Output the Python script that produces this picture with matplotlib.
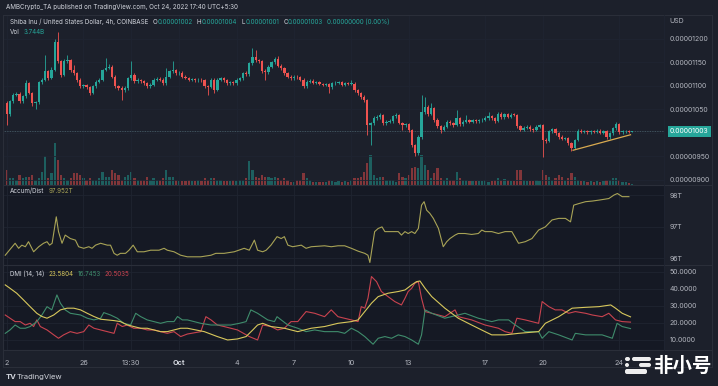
import matplotlib
matplotlib.use("Agg")
import matplotlib.pyplot as plt
from matplotlib.patches import FancyBboxPatch
import numpy as np

# SHIB/USD, 4h candles from Sep 22 2022, prices in units of 1e-8 USD
first_open = 1063
close = [
    1040, 1067, 1081, 1083, 1067, 1078, 1106, 1085, 1063, 1065,
    1108, 1113, 1131, 1117, 1134, 1194, 1152, 1124, 1152, 1155,
    1134, 1127, 1113, 1099, 1101, 1097, 1085, 1099, 1109, 1113,
    1134, 1138, 1141, 1120, 1099, 1096, 1092, 1095, 1116, 1124,
    1110, 1112, 1110, 1106, 1099, 1102, 1113, 1115, 1113, 1106,
    1120, 1131, 1133, 1127, 1128, 1120, 1117, 1113, 1114, 1112,
    1113, 1112, 1099, 1098, 1113, 1092, 1113, 1116, 1112, 1106,
    1108, 1106, 1113, 1116, 1127, 1125, 1148, 1162, 1155, 1153,
    1131, 1129, 1141, 1150, 1158, 1143, 1138, 1127, 1120, 1116,
    1120, 1118, 1113, 1099, 1109, 1111, 1107, 1108, 1104, 1103,
    1104, 1097, 1106, 1107, 1108, 1103, 1106, 1104, 1105, 1091,
    1084, 1077, 1070, 1017, 1020, 1031, 1033, 1038, 1020, 1024,
    1025, 1035, 1038, 1021, 1017, 1018, 1006, 974, 957, 992,
    1045, 1056, 1040, 1052, 1028, 1014, 1006, 1013, 1024, 1021,
    1017, 1031, 1018, 1024, 1027, 1024, 1027, 1025, 1027, 1028,
    1031, 1035, 1031, 1026, 1041, 1033, 1040, 1034, 1039, 1038,
    1014, 1007, 1011, 1013, 1008, 1006, 1013, 1016, 985, 983,
    1003, 1008, 999, 992, 988, 989, 978, 968, 985, 1005,
    1002, 1004, 1001, 1004, 1002, 1005, 1000, 1003, 991, 999,
    1010, 1019, 1001, 1003, 1004, 1002, 1003,
]
high = [
    1067, 1070, 1085, 1088, 1086, 1081, 1112, 1109, 1088, 1068,
    1111, 1117, 1166, 1134, 1140, 1199, 1215, 1156, 1158, 1166,
    1158, 1145, 1130, 1116, 1105, 1104, 1100, 1102, 1112, 1117,
    1137, 1159, 1146, 1145, 1123, 1102, 1099, 1099, 1119, 1152,
    1127, 1116, 1115, 1113, 1109, 1106, 1116, 1119, 1118, 1116,
    1138, 1134, 1152, 1136, 1131, 1131, 1123, 1120, 1117, 1117,
    1116, 1116, 1115, 1102, 1116, 1116, 1117, 1120, 1119, 1115,
    1111, 1111, 1116, 1120, 1130, 1131, 1151, 1180, 1177, 1158,
    1156, 1135, 1144, 1153, 1162, 1163, 1146, 1141, 1130, 1123,
    1123, 1123, 1121, 1116, 1112, 1114, 1114, 1111, 1111, 1107,
    1107, 1107, 1109, 1111, 1111, 1111, 1109, 1109, 1113, 1108,
    1094, 1087, 1080, 1073, 1024, 1035, 1037, 1042, 1041, 1028,
    1029, 1038, 1042, 1041, 1024, 1022, 1021, 1009, 977, 995,
    1081, 1077, 1059, 1064, 1055, 1031, 1017, 1016, 1027, 1028,
    1024, 1048, 1034, 1027, 1037, 1030, 1030, 1030, 1030, 1032,
    1035, 1045, 1038, 1034, 1044, 1044, 1043, 1043, 1042, 1042,
    1041, 1017, 1014, 1016, 1016, 1011, 1016, 1019, 1019, 989,
    1006, 1011, 1011, 1002, 995, 992, 992, 981, 988, 1008,
    1008, 1007, 1007, 1007, 1007, 1008, 1008, 1006, 1006, 1002,
    1013, 1023, 1022, 1006, 1006, 1006, 1004,
]
low = [
    1017, 1036, 1064, 1078, 1063, 1064, 1075, 1082, 1058, 1050,
    1062, 1104, 1110, 1113, 1114, 1131, 1148, 1120, 1121, 1148,
    1130, 1123, 1109, 1095, 1096, 1093, 1080, 1082, 1096, 1106,
    1110, 1131, 1135, 1117, 1095, 1092, 1070, 1088, 1092, 1113,
    1107, 1106, 1107, 1102, 1095, 1096, 1099, 1110, 1110, 1102,
    1103, 1117, 1128, 1124, 1124, 1117, 1114, 1110, 1110, 1109,
    1108, 1109, 1096, 1081, 1095, 1085, 1089, 1110, 1109, 1103,
    1103, 1102, 1103, 1110, 1113, 1121, 1122, 1145, 1151, 1149,
    1127, 1113, 1126, 1138, 1147, 1140, 1134, 1123, 1116, 1112,
    1113, 1115, 1110, 1095, 1096, 1106, 1104, 1104, 1101, 1099,
    1100, 1084, 1094, 1103, 1104, 1100, 1100, 1101, 1101, 1088,
    1080, 1073, 1066, 995, 974, 1016, 1028, 1030, 1016, 1017,
    1021, 1022, 1032, 1018, 1006, 1013, 1002, 970, 950, 953,
    988, 1041, 1036, 1037, 1024, 1010, 999, 1003, 1010, 1017,
    1013, 1014, 1014, 1015, 1021, 1020, 1021, 1022, 1022, 1024,
    1025, 1028, 1027, 1022, 1023, 1030, 1030, 1031, 1031, 1035,
    1010, 1003, 1004, 1008, 1005, 1002, 1003, 1010, 948, 979,
    980, 1000, 996, 988, 985, 985, 974, 962, 965, 982,
    999, 999, 998, 998, 999, 999, 997, 997, 988, 988,
    996, 1007, 998, 998, 1000, 1000, 1001,
]
# volume in billions SHIB
volume = [
    45, 20, 20, 15, 30, 20, 25, 25, 30, 15,
    20, 40, 85, 20, 35, 125, 75, 30, 20, 15,
    20, 35, 35, 30, 20, 15, 20, 15, 15, 20,
    40, 25, 25, 45, 35, 30, 15, 25, 30, 40,
    20, 15, 15, 15, 25, 15, 20, 15, 15, 20,
    45, 25, 25, 15, 12, 12, 12, 15, 12, 12,
    15, 12, 20, 15, 20, 20, 15, 15, 12, 12,
    12, 15, 12, 15, 15, 20, 70, 45, 25, 20,
    30, 25, 25, 20, 25, 20, 15, 20, 15, 10,
    10, 15, 15, 35, 20, 15, 10, 10, 10, 10,
    10, 15, 12, 10, 12, 10, 12, 10, 15, 20,
    20, 25, 40, 65, 90, 30, 20, 25, 25, 15,
    15, 15, 10, 35, 25, 20, 30, 50, 55, 50,
    90, 60, 45, 20, 35, 50, 20, 15, 20, 15,
    15, 40, 20, 15, 15, 12, 12, 12, 12, 12,
    15, 10, 12, 15, 20, 15, 18, 15, 12, 12,
    45, 45, 15, 12, 12, 12, 15, 12, 45, 30,
    25, 15, 20, 30, 25, 15, 20, 35, 25, 15,
    12, 12, 10, 12, 10, 12, 10, 12, 15, 15,
    20, 20, 15, 10, 8, 5, 3.744,
]

# rising support line drawn on the chart (candle index, price)
trend_idx = [177.5, 195.5]
trend_price = [963, 996]
last_price = 1003

# Accumulation/Distribution (trillions), sampled along the candle index
ad_idx = [
    -0.5, 2.6, 3.7, 4.7, 5.8, 6.8, 8.4, 10.0, 11.5, 12.6,
    13.4, 14.2, 15.5, 16.2, 17.3, 18.3, 19.9, 21.5, 22.5, 24.1,
    25.7, 26.7, 27.8, 29.4, 31.5, 32.5, 33.6, 34.6, 35.6, 37.2,
    38.3, 39.6, 40.9, 43.0, 45.1, 47.7, 49.3, 50.3, 52.4, 54.5,
    56.6, 58.7, 60.8, 64.0, 65.5, 68.1, 71.3, 74.4, 76.0, 77.6,
    78.6, 80.2, 81.3, 82.8, 84.7, 86.0, 87.0, 88.1, 89.6, 92.3,
    93.8, 95.4, 99.6, 101.7, 103.8, 105.9, 108.0, 110.1, 112.2, 113.2,
    113.8, 114.8, 115.3, 116.4, 117.6, 118.5, 120.6, 122.7, 123.7, 124.8,
    125.8, 126.9, 127.9, 129.0, 130.0, 130.8, 131.6, 132.6, 133.7, 135.3,
    136.8, 137.9, 138.9, 140.5, 141.5, 143.6, 145.7, 147.8, 148.9, 149.9,
    152.0, 154.1, 156.2, 158.3, 160.4, 162.5, 164.6, 166.7, 168.8, 170.9,
    173.0, 175.1, 176.7, 177.7, 179.3, 181.4, 183.5, 185.6, 188.7, 190.3,
    191.4, 192.9, 195.0,
]
ad_val = [
    96.09, 96.47, 96.31, 96.41, 96.36, 96.52, 96.20, 96.36, 96.47, 96.52,
    96.41, 96.47, 97.31, 96.84, 96.47, 96.73, 96.62, 96.57, 96.36, 96.31,
    96.36, 96.31, 96.41, 96.47, 96.41, 96.41, 96.15, 96.09, 96.15, 96.15,
    96.25, 96.41, 96.20, 96.20, 96.25, 96.25, 96.31, 96.25, 96.20, 96.09,
    96.04, 96.04, 96.04, 96.09, 96.15, 96.15, 96.20, 96.31, 96.25, 96.57,
    96.25, 96.20, 96.25, 96.41, 96.68, 96.62, 96.68, 96.41, 96.36, 96.41,
    96.31, 96.36, 96.39, 96.36, 96.39, 96.39, 96.31, 96.22, 96.15, 96.09,
    95.86, 96.52, 96.84, 96.94, 96.99, 96.84, 96.84, 96.84, 96.73, 96.84,
    96.78, 96.84, 96.78, 96.94, 97.68, 97.79, 97.52, 97.42, 97.26, 96.94,
    96.36, 96.52, 96.62, 96.73, 96.78, 96.78, 96.75, 96.78, 96.89, 96.84,
    96.84, 96.78, 96.84, 96.84, 96.47, 96.52, 96.62, 96.89, 96.99, 97.21,
    97.26, 97.26, 97.15, 97.68, 97.73, 97.79, 97.81, 97.84, 97.89, 98.00,
    98.05, 97.95, 97.95,
]

# DMI (14, 14): ADX, +DI, -DI
adx_idx = [
    -0.5, 1.0, 3.1, 5.2, 7.3, 9.4, 11.0, 12.6, 14.7, 16.8,
    18.9, 21.0, 23.1, 25.2, 27.3, 29.4, 31.5, 33.6, 35.6, 37.7,
    39.8, 41.9, 44.0, 46.1, 48.2, 50.3, 52.4, 54.5, 56.6, 61.9,
    66.0, 69.2, 72.3, 75.0, 77.1, 78.6, 80.2, 82.8, 87.0, 91.2,
    95.4, 99.6, 103.8, 108.0, 110.1, 112.2, 114.3, 116.4, 119.5, 122.7,
    124.8, 126.9, 128.4, 129.5, 131.1, 133.2, 137.3, 141.5, 145.7, 149.9,
    152.0, 156.2, 160.4, 166.7, 168.8, 173.0, 177.2, 181.4, 185.6, 189.3,
    190.8, 192.9, 195.5,
]
adx_val = [
    42.4, 40.4, 37.5, 33.6, 29.6, 25.7, 23.8, 22.8, 24.7, 27.7,
    28.7, 28.7, 27.7, 25.7, 23.8, 22.2, 21.8, 21.4, 20.8, 18.9,
    17.9, 16.9, 16.9, 15.9, 14.9, 14.9, 15.9, 16.9, 16.9, 14.9,
    12.0, 10.0, 10.6, 12.0, 15.9, 18.8, 19.8, 17.9, 16.9, 14.9,
    16.9, 17.9, 19.8, 20.8, 21.8, 26.7, 31.6, 35.5, 37.5, 38.5,
    39.4, 42.4, 44.3, 44.7, 40.4, 35.5, 28.7, 22.8, 18.8, 14.9,
    13.0, 13.0, 13.9, 14.9, 19.8, 23.7, 28.7, 29.2, 29.6, 30.6,
    28.7, 25.7, 23.6,
]
pdi_idx = [
    -0.5, 1.0, 2.6, 4.2, 5.8, 7.3, 9.4, 11.0, 12.6, 14.1,
    15.7, 16.8, 18.3, 19.9, 23.1, 25.2, 27.3, 29.4, 30.4, 32.5,
    34.6, 36.7, 38.8, 40.4, 41.9, 44.0, 46.1, 48.2, 50.3, 52.4,
    53.5, 55.0, 56.6, 60.8, 64.0, 67.1, 70.2, 72.9, 75.0, 76.5,
    78.6, 81.8, 83.9, 84.7, 86.0, 88.1, 91.2, 93.8, 96.5, 99.6,
    103.8, 105.9, 108.0, 110.1, 112.2, 114.8, 116.4, 118.5, 120.6, 122.7,
    124.8, 126.9, 129.0, 130.0, 131.1, 133.2, 137.3, 141.5, 143.6, 147.8,
    152.0, 154.1, 157.3, 159.4, 162.5, 166.7, 167.8, 169.9, 173.0, 177.2,
    178.2, 181.4, 186.6, 189.8, 191.3, 192.9, 195.5,
]
pdi_val = [
    13.9, 15.9, 18.8, 16.9, 16.9, 17.9, 20.8, 24.7, 29.6, 27.7,
    36.5, 31.6, 27.7, 25.7, 24.7, 22.8, 21.8, 22.8, 26.1, 24.7,
    22.8, 19.8, 18.8, 25.7, 23.8, 21.8, 20.8, 19.8, 20.8, 20.8,
    23.8, 21.8, 21.8, 19.8, 18.8, 18.8, 18.8, 19.8, 20.8, 27.7,
    25.7, 21.8, 20.8, 23.7, 21.8, 18.8, 16.9, 14.9, 15.9, 14.9,
    14.9, 13.9, 16.9, 14.9, 12.0, 7.5, 11.0, 12.0, 11.0, 13.0,
    12.0, 10.0, 7.5, 13.0, 27.7, 25.7, 22.8, 24.7, 25.7, 22.8,
    20.8, 21.8, 21.8, 18.8, 14.9, 14.9, 11.0, 14.9, 13.0, 10.0,
    13.9, 13.0, 13.0, 11.0, 19.8, 17.9, 16.7,
]
mdi_idx = [
    -0.5, 1.0, 2.6, 4.2, 5.8, 7.3, 8.4, 9.4, 10.5, 12.6,
    14.7, 16.2, 17.8, 19.9, 22.0, 24.1, 25.7, 27.3, 29.4, 31.5,
    33.6, 34.6, 36.2, 37.7, 39.8, 41.9, 44.0, 46.1, 48.2, 50.3,
    52.4, 54.5, 56.6, 60.8, 62.4, 64.0, 66.0, 68.1, 72.3, 76.0,
    78.6, 80.2, 82.8, 84.9, 87.0, 89.1, 91.2, 93.8, 96.5, 99.6,
    101.7, 103.8, 108.0, 110.1, 111.1, 112.2, 113.2, 114.3, 115.9, 117.4,
    119.5, 121.6, 123.7, 124.8, 125.8, 126.9, 127.9, 129.0, 130.0, 131.1,
    133.2, 137.3, 140.5, 141.5, 145.7, 149.9, 154.1, 156.2, 158.3, 159.9,
    162.5, 166.7, 167.8, 169.9, 171.9, 174.0, 176.1, 178.2, 181.4, 183.5,
    186.6, 188.7, 190.8, 192.9, 195.5,
]
mdi_val = [
    24.7, 22.8, 20.8, 20.8, 18.8, 19.8, 17.9, 21.8, 17.9, 15.9,
    13.0, 11.0, 13.0, 14.9, 13.9, 14.9, 18.8, 16.9, 15.9, 14.9,
    13.9, 19.8, 17.9, 18.8, 16.9, 16.9, 15.9, 15.9, 14.9, 13.9,
    14.9, 12.0, 13.5, 14.9, 23.7, 21.8, 18.8, 17.9, 15.9, 12.0,
    10.0, 18.8, 17.9, 15.9, 16.9, 20.8, 20.8, 26.7, 25.7, 23.7,
    27.7, 23.7, 21.8, 20.8, 29.6, 28.7, 34.5, 47.3, 44.3, 38.5,
    35.5, 32.6, 30.6, 34.5, 38.5, 40.4, 43.4, 44.3, 34.5, 26.7,
    25.7, 23.7, 27.7, 23.7, 21.8, 18.8, 16.9, 14.9, 13.9, 22.8,
    21.8, 19.8, 32.6, 29.6, 27.7, 27.7, 25.7, 26.7, 25.7, 24.7,
    23.7, 25.7, 21.8, 20.8, 20.5,
]

# time axis labels (candle index of each label)
tick_idx = [0, 24, 39, 54, 72, 90, 108, 126, 150, 168, 192]
tick_lab = ["2", "26", "13:30", "Oct", "4", "7", "10", "13", "17", "20", "24"]

# ---------------------------------------------------------------------
BG = "#151924"
FIG_BG = "#1c202b"
GRID = "#1f2431"
TXT = "#b2b5be"
HDR = "#d1d4dc"
UP = "#26a69a"
DOWN = "#ef5350"
VOL_UP = "#1d5f5f"
VOL_DOWN = "#82363a"
AD_COL = "#a8a356"
ADX_COL = "#d8c85c"
PDI_COL = "#3f8c6c"
MDI_COL = "#c9434f"

plt.rcParams["font.family"] = ["Inter", "DejaVu Sans"]

W, H = 718, 386
fig = plt.figure(figsize=(W / 100, H / 100), dpi=100)
fig.patch.set_facecolor(FIG_BG)

LEFT, RIGHT = 3, 664


def panel(top, bottom, **kw):
    return fig.add_axes([LEFT / W, 1 - bottom / H, (RIGHT - LEFT) / W,
                         (bottom - top) / H], **kw)


def style(ax, yticks, ylabels):
    ax.set_facecolor(BG)
    for s in ax.spines.values():
        s.set_visible(False)
    ax.set_xlim(-1.2, 206)
    ax.set_xticks(tick_idx)
    ax.set_yticks(yticks)
    ax.set_yticklabels(ylabels)
    ax.yaxis.tick_right()
    ax.tick_params(length=0, labelsize=5, labelcolor=TXT, pad=4)
    ax.tick_params(axis="x", labelbottom=False)
    ax.grid(True, color=GRID, lw=0.6)
    ax.set_axisbelow(True)


# main panel: volume underneath, candles on top
ax_v = panel(15, 185)
ax_v.set_facecolor(BG)
ax_v.set_xlim(-1.2, 206)
ax_v.set_ylim(0, 506)
ax_v.axis("off")

ax1 = panel(15, 185, sharex=ax_v)
style(ax1, [900, 950, 1000, 1050, 1100, 1150, 1200],
      ["0.00000900", "0.00000950", "", "0.00001050", "0.00001100",
       "0.00001150", "0.00001200"])
ax1.patch.set_alpha(0)
ax1.set_ylim(889, 1251)

idx = np.arange(len(close))
closes = np.array(close, dtype=float)
opens = np.concatenate([[first_open], closes[:-1]])
rising = closes >= opens
ccol = np.where(rising, UP, DOWN)
vcol = np.where(rising, VOL_UP, VOL_DOWN)

ax_v.bar(idx, volume, width=0.7, color=vcol, lw=0)
ax1.vlines(idx, low, high, colors=ccol, lw=0.6, zorder=3)
ax1.bar(idx, np.maximum(np.abs(closes - opens), 1.2),
        bottom=np.minimum(opens, closes), width=0.72, color=ccol, lw=0, zorder=4)
ax1.axhline(last_price, color="#4d6470", lw=0.6, ls=(0, (1, 1)), zorder=2)
ax1.plot(trend_idx, trend_price, color="#d9aa50", lw=0.9, zorder=5)

# current price tag on the scale
ax1.text(1.0 + 6 / (RIGHT - LEFT), last_price, "0.00001003",
         transform=ax1.get_yaxis_transform(), color="white", fontsize=5,
         ha="left", va="center", clip_on=False, zorder=6,
         bbox=dict(boxstyle="square,pad=0.3", fc=UP, ec="none"))

# accumulation / distribution
ax2 = panel(185, 265, sharex=ax_v)
style(ax2, [96, 97, 98], ["96T", "97T", "98T"])
ax2.set_ylim(95.78, 98.32)
ax2.plot(ad_idx, ad_val, color=AD_COL, lw=0.8)

# DMI
ax3 = panel(265, 350, sharex=ax_v)
style(ax3, [10, 20, 30, 40, 50],
      ["10.0000", "20.0000", "30.0000", "40.0000", "50.0000"])
ax3.set_ylim(4.1, 54.1)
ax3.plot(mdi_idx, mdi_val, color=MDI_COL, lw=0.8)
ax3.plot(pdi_idx, pdi_val, color=PDI_COL, lw=0.8)
ax3.plot(adx_idx, adx_val, color=ADX_COL, lw=0.8)
ax3.set_xticklabels(tick_lab)
ax3.tick_params(axis="x", labelbottom=True, labelsize=5.2, labelcolor=TXT, pad=7)
for t in ax3.get_xticklabels():
    if t.get_text() == "Oct":
        t.set_fontweight("bold")
        t.set_color(HDR)

# overlay in pixel coordinates for texts, separators and logos
ov = fig.add_axes([0, 0, 1, 1], zorder=10)
ov.set_xlim(0, W)
ov.set_ylim(H, 0)
ov.axis("off")
ov.patch.set_alpha(0)

for y in (14.5, 185, 265, 350, 367):
    ov.plot([3, 712], [y, y], color="#2a2e39", lw=0.8)
ov.plot([3, 3], [14.5, 367], color="#2a2e39", lw=0.8)
ov.plot([712, 712], [14.5, 367], color="#2a2e39", lw=0.8)
ov.plot([RIGHT, RIGHT], [14.5, 350], color="#1f2431", lw=0.6)

renderer = fig.canvas.get_renderer()


def row(x, y, parts, size=4.5, **kw):
    # place text pieces one after another; parts = (text, colour, gap after)
    for s, color, gap in parts:
        t = ov.text(x, y, s, color=color, fontsize=size, ha="left", va="center", **kw)
        x += t.get_window_extent(renderer).width + gap


row(6, 7, [("AMBCrypto_TA published on TradingView.com, Oct 24, 2022 17:40 UTC+5:30", HDR, 0)])
row(10, 22, [("Shiba Inu / United States Dollar, 4h, COINBASE", HDR, 4),
             ("O", HDR, 0.5), ("0.00001002", UP, 4),
             ("H", HDR, 0.5), ("0.00001004", UP, 4),
             ("L", HDR, 0.5), ("0.00001001", UP, 4),
             ("C", HDR, 0.5), ("0.00001003", UP, 4),
             ("0.00000000 (0.00%)", UP, 0)])
row(10, 32, [("Vol", HDR, 4), ("3.744B", UP, 0)])
row(669, 21, [("USD", TXT, 0)], size=5)
row(10, 191, [("Accum/Dist", HDR, 4), ("97.952T", AD_COL, 0)])
row(10, 274, [("DMI (14, 14)", HDR, 4), ("23.5804", ADX_COL, 4),
              ("16.7453", PDI_COL, 4), ("20.5035", MDI_COL, 0)])

# TradingView mark at the bottom left
row(6, 377, [("TV", HDR, 2.5)], size=5.5, fontweight="bold")
row(17, 377, [("TradingView", HDR, 0)], size=5.5)

# watermark at the bottom right
for (x, y, w, h) in [(625, 357, 5, 4), (632, 357, 19, 4), (625, 363, 4, 4),
                     (639, 363, 12, 4), (625, 369, 22, 5)]:
    ov.add_patch(FancyBboxPatch((x, y), w, h, boxstyle="round,pad=0,rounding_size=2",
                                fc="#eeeeee", ec="none"))
ov.text(653, 366, "非小号", color="white", fontsize=14, fontweight="bold",
        ha="left", va="center", family=["Noto Sans CJK SC", "DejaVu Sans"])

fig.savefig("out.png", dpi=100, facecolor=fig.get_facecolor())
